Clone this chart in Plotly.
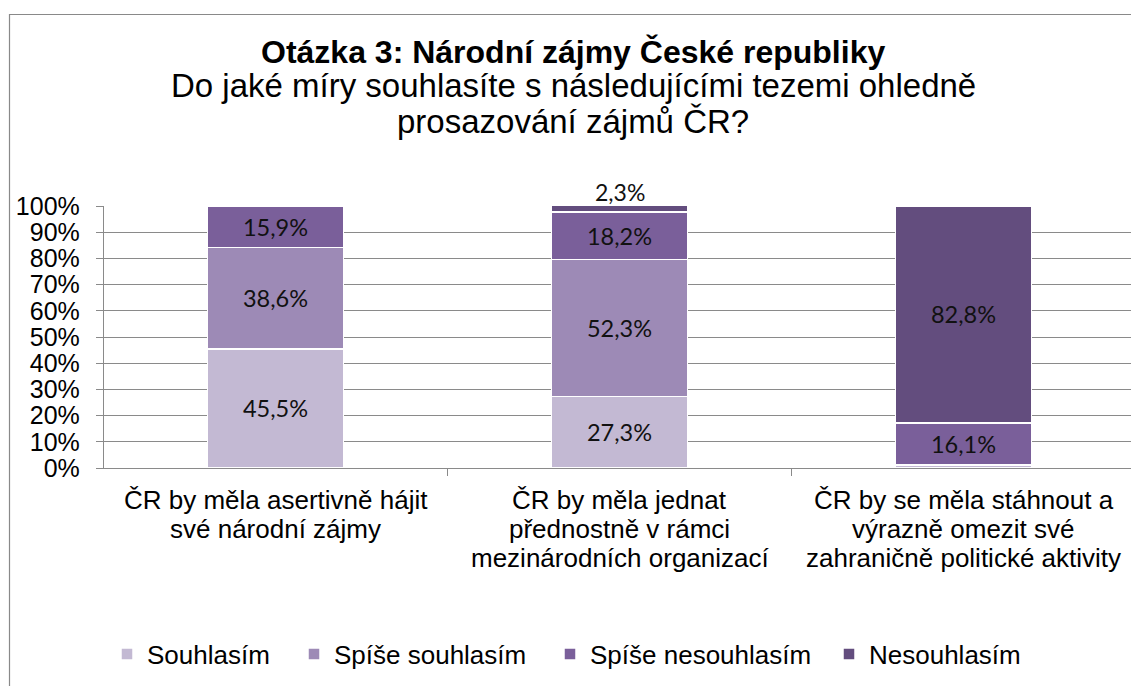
import plotly.graph_objects as go

# ---- data ----
categories = [
    ["ČR by měla asertivně hájit", "své národní zájmy"],
    ["ČR by měla jednat", "přednostně v rámci", "mezinárodních organizací"],
    ["ČR by se měla stáhnout a", "výrazně omezit své", "zahraničně politické aktivity"],
]
series_names = ["Souhlasím", "Spíše souhlasím", "Spíše nesouhlasím", "Nesouhlasím"]
souhlasim = [45.5, 27.3, 1.1]
spise_souhlasim = [38.6, 52.3, 0.0]
spise_nesouhlasim = [15.9, 18.2, 16.1]
nesouhlasim = [0.0, 2.3, 82.8]
y_ticks = [0, 10, 20, 30, 40, 50, 60, 70, 80, 90, 100]
y_tick_labels = [f"{v}%" for v in y_ticks]

title_lines = [
    "<b>Otázka 3: Národní zájmy České republiky</b>",
    "Do jaké míry souhlasíte s následujícími tezemi ohledně",
    "prosazování zájmů ČR?",
]

# ---- styles ----
colors = ["#C3B9D3", "#9D8AB6", "#7A5F9A", "#634D7E"]
ARIAL = "Liberation Sans, Arial, sans-serif"
LABEL_FONT = "Lato, Carlito, Calibri, sans-serif"
GRID = "#8a8a8a"

W, H = 1131, 686
ML, MR, MT, MB = 104, 0, 206, 218
plot_w = W - ML - MR
plot_h = H - MT - MB
unit = 344.0  # px per category
x0 = -0.5 + (ML - 103.5) / unit
x1 = x0 + plot_w / unit
y_max = 100


def fmt(v):
    return f"{v:.1f}".replace(".", ",") + "%"


def py(p):
    return (H - MB - p) / plot_h


def px(p):
    return (p - ML) / plot_w


all_series = [souhlasim, spise_souhlasim, spise_nesouhlasim, nesouhlasim]
xs = list(range(len(categories)))
totals = [sum(s[i] for s in all_series) for i in xs]

fig = go.Figure()
legend_ids = ["legend", "legend2", "legend3", "legend4"]
outside_labels = []
for i, (name, vals) in enumerate(zip(series_names, all_series)):
    texts = []
    for j, v in enumerate(vals):
        if v >= 5:
            texts.append(fmt(v))
        else:
            texts.append("")
            if v >= 2 and i == len(all_series) - 1:
                outside_labels.append((j, v))
    fig.add_trace(go.Bar(
        x=xs, y=vals, name=name,
        marker=dict(color=colors[i], line=dict(color="white", width=1.5)),
        width=0.395,
        text=texts,
        textposition="inside",
        insidetextanchor="middle",
        textangle=0,
        insidetextfont=dict(family=LABEL_FONT, size=23.5, color="#111111"),
        hovertemplate="%{y:.1f}%<extra>" + name + "</extra>",
        legend=legend_ids[i],
        showlegend=True,
    ))

annotations = []
# small values of the top series shown above the bar
for j, v in outside_labels:
    annotations.append(dict(
        text=fmt(v), x=xs[j], y=min(totals[j], y_max), xref="x", yref="y",
        xanchor="center", yanchor="bottom", showarrow=False, yshift=-2,
        font=dict(family=LABEL_FONT, size=23, color="#111111"),
    ))

# title
for txt, ypix, fs in zip(title_lines, [52, 86, 122], [32, 33, 33]):
    annotations.append(dict(
        text=txt, x=px(573), y=py(ypix), xref="paper", yref="paper",
        xanchor="center", yanchor="middle", showarrow=False,
        font=dict(family=ARIAL, size=fs, color="#000000"),
    ))

# category labels (one annotation per line for Excel-like line spacing)
for j, lines in enumerate(categories):
    for k, line in enumerate(lines):
        annotations.append(dict(
            text=line, x=xs[j], y=py(500 + 29 * k), xref="x", yref="paper",
            xanchor="center", yanchor="middle", showarrow=False,
            font=dict(family=ARIAL, size=26, color="#000000"),
        ))

legend_text_starts = [148, 335, 591, 870]
legend_common = dict(
    orientation="h", yanchor="middle", y=py(654), xanchor="left",
    bgcolor="rgba(0,0,0,0)", borderwidth=0,
    font=dict(family=ARIAL, size=26, color="#000000"),
)
legends = {}
for lid, ts in zip(legend_ids, legend_text_starts):
    d = dict(legend_common)
    d["x"] = px(ts - 41)
    legends[lid] = d

fig.update_layout(
    width=W, height=H,
    margin=dict(l=ML, r=MR, t=MT, b=MB, pad=0, autoexpand=False),
    barmode="stack",
    showlegend=True,
    paper_bgcolor="white", plot_bgcolor="white",
    annotations=annotations,
    shapes=[dict(
        type="rect", xref="paper", yref="paper",
        x0=px(9.5), x1=px(1145), y0=py(720), y1=py(14.5),
        line=dict(color="#898989", width=1.2), fillcolor="rgba(0,0,0,0)",
        layer="below",
    )],
    **legends,
)

fig.update_xaxes(
    range=[x0, x1],
    tickvals=xs, showticklabels=False,
    ticks="", showgrid=False,
    showline=True, linecolor=GRID, linewidth=1.4,
    minor=dict(tickvals=[-0.5, 0.5, 1.5, 2.5], ticks="outside", ticklen=7,
               tickcolor=GRID, tickwidth=1.4, showgrid=False),
    automargin=False,
    fixedrange=True,
)
fig.update_yaxes(
    range=[0, y_max],
    tickvals=y_ticks, ticktext=y_tick_labels,
    ticks="outside", ticklen=7, tickcolor=GRID, tickwidth=1.4,
    showgrid=True, gridcolor=GRID, gridwidth=1.4,
    showline=True, linecolor=GRID, linewidth=1.4,
    zeroline=False,
    tickfont=dict(family=ARIAL, size=25, color="#000000"),
    ticklabelstandoff=11,
    automargin=False,
    fixedrange=True,
)

fig.write_html("out.html", config={"displayModeBar": False},
               post_script="document.body.style.margin='0';")
